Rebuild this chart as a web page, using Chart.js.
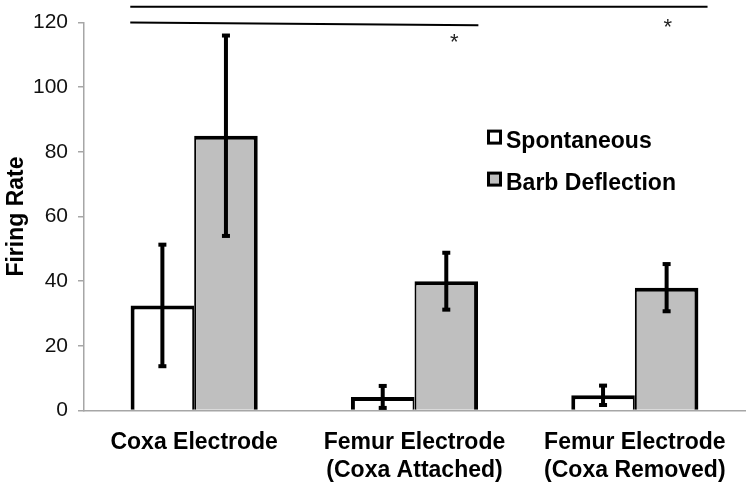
<!DOCTYPE html>
<html>
<head>
<meta charset="utf-8">
<script src="https://cdn.jsdelivr.net/npm/chart.js@4/dist/chart.umd.min.js"></script>
<style>
  html, body { margin: 0; padding: 0; background: #fff; }
  #wrap { width: 747px; height: 483px; }
</style>
</head>
<body>
<div id="wrap"><canvas id="firingChart"></canvas></div>
<script>
const categories = [
  'Coxa Electrode',
  ['Femur Electrode', '(Coxa Attached)'],
  ['Femur Electrode', '(Coxa Removed)']
];
const seriesNames = ['Spontaneous', 'Barb Deflection'];
const spontaneous = [32.5, 4.2, 4.7];
const barbDeflection = [85, 40, 38];
const spontaneousErr = [18.8, 3.4, 3];
const barbDeflectionErr = [31, 8.8, 7.3];
const yTicks = [0, 20, 40, 60, 80, 100, 120];

// significance brackets (category index range, value) and asterisks
const sigLines = [
  { from: -0.29, to: 2.33, y1: 124.9, y2: 124.9 },
  { from: -0.29, to: 1.29, y1: 120.0, y2: 119.2 }
];
const sigStars = [
  { x: 1.18, y: 114.8 },
  { x: 2.15, y: 119.6 }
];

const FONT = '"Liberation Sans", Arial, sans-serif';

const errorBars = {
  id: 'errorBars',
  afterDatasetsDraw(chart) {
    const ctx = chart.ctx;
    const yScale = chart.scales.y;
    chart.data.datasets.forEach((ds, i) => {
      const meta = chart.getDatasetMeta(i);
      meta.data.forEach((bar, j) => {
        const v = ds.data[j], e = ds.errors[j];
        const top = yScale.getPixelForValue(v + e);
        const bot = yScale.getPixelForValue(Math.max(v - e, 0));
        ctx.save();
        ctx.strokeStyle = '#000';
        ctx.lineWidth = 4;
        ctx.beginPath();
        ctx.moveTo(bar.x, top);
        ctx.lineTo(bar.x, bot);
        ctx.stroke();
        ctx.fillStyle = '#000';
        ctx.fillRect(bar.x - 4, top - 2, 8, 4);
        ctx.fillRect(bar.x - 4, bot - 2, 8, 4);
        ctx.restore();
      });
    });
  }
};

const annotations = {
  id: 'annotations',
  afterDraw(chart) {
    const ctx = chart.ctx;
    const xs = chart.scales.x, ys = chart.scales.y;
    ctx.save();
    ctx.strokeStyle = '#000';
    ctx.lineWidth = 2;
    sigLines.forEach(l => {
      ctx.beginPath();
      ctx.moveTo(xs.getPixelForValue(l.from), ys.getPixelForValue(l.y1));
      ctx.lineTo(xs.getPixelForValue(l.to), ys.getPixelForValue(l.y2));
      ctx.stroke();
    });
    ctx.fillStyle = '#222';
    ctx.font = '22px ' + FONT;
    ctx.textAlign = 'center';
    ctx.textBaseline = 'middle';
    sigStars.forEach(s => {
      ctx.fillText('*', xs.getPixelForValue(s.x), ys.getPixelForValue(s.y) + 4);
    });

    // legend inside the plot
    const area = chart.chartArea;
    const lx = area.left + 403, ly = area.top + 107;
    ctx.font = 'bold 23px ' + FONT;
    ctx.textAlign = 'left';
    ctx.textBaseline = 'alphabetic';
    chart.data.datasets.forEach((ds, i) => {
      const y = ly + i * 42;
      ctx.fillStyle = '#000';
      ctx.fillRect(lx, y, 15, 15);
      ctx.fillStyle = ds.backgroundColor;
      ctx.fillRect(lx + 3, y + 3, 9, 9);
      ctx.fillStyle = '#000';
      ctx.fillText(ds.label, lx + 19, y + 18);
    });
    ctx.restore();
  }
};

new Chart(document.getElementById('firingChart'), {
  type: 'bar',
  data: {
    labels: categories,
    datasets: [
      {
        label: seriesNames[0],
        data: spontaneous,
        errors: spontaneousErr,
        backgroundColor: '#ffffff',
        borderColor: '#000000',
        borderWidth: { left: 4, top: 4, right: 2, bottom: 0 },
        borderSkipped: 'start',
        categoryPercentage: 0.577,
        barPercentage: 1.0
      },
      {
        label: seriesNames[1],
        data: barbDeflection,
        errors: barbDeflectionErr,
        backgroundColor: '#bfbfbf',
        borderColor: '#000000',
        borderWidth: { left: 2, top: 4, right: 4, bottom: 0 },
        borderSkipped: 'start',
        categoryPercentage: 0.577,
        barPercentage: 1.0
      }
    ]
  },
  options: {
    responsive: true,
    maintainAspectRatio: false,
    animation: false,
    layout: { padding: { top: 21, right: 2, left: 0, bottom: 0 } },
    plugins: {
      legend: { display: false },
      tooltip: { enabled: false }
    },
    scales: {
      x: {
        grid: { display: false },
        border: { display: true, color: '#a6a6a6', width: 1.5 },
        ticks: {
          color: '#000',
          padding: 10,
          maxRotation: 0,
          autoSkip: false,
          font: { family: FONT, size: 23, weight: 'bold', lineHeight: 1.22 }
        },
        afterFit(scale) { scale.height = 72.5; }
      },
      y: {
        min: 0,
        max: 120,
        afterBuildTicks(scale) { scale.ticks = yTicks.map(v => ({ value: v })); },
        grid: {
          display: true,
          drawOnChartArea: false,
          drawTicks: true,
          tickLength: 6,
          color: '#a6a6a6',
          lineWidth: 1.5
        },
        border: { display: true, color: '#a6a6a6', width: 1.5 },
        ticks: {
          color: '#111',
          padding: 10,
          font: { family: FONT, size: 21 }
        },
        title: {
          display: true,
          text: 'Firing Rate',
          color: '#000',
          padding: { top: 3, bottom: 0 },
          font: { family: FONT, size: 23, weight: 'bold' }
        },
        afterFit(scale) { scale.width = 84; }
      }
    }
  },
  plugins: [errorBars, annotations]
});
</script>
</body>
</html>
